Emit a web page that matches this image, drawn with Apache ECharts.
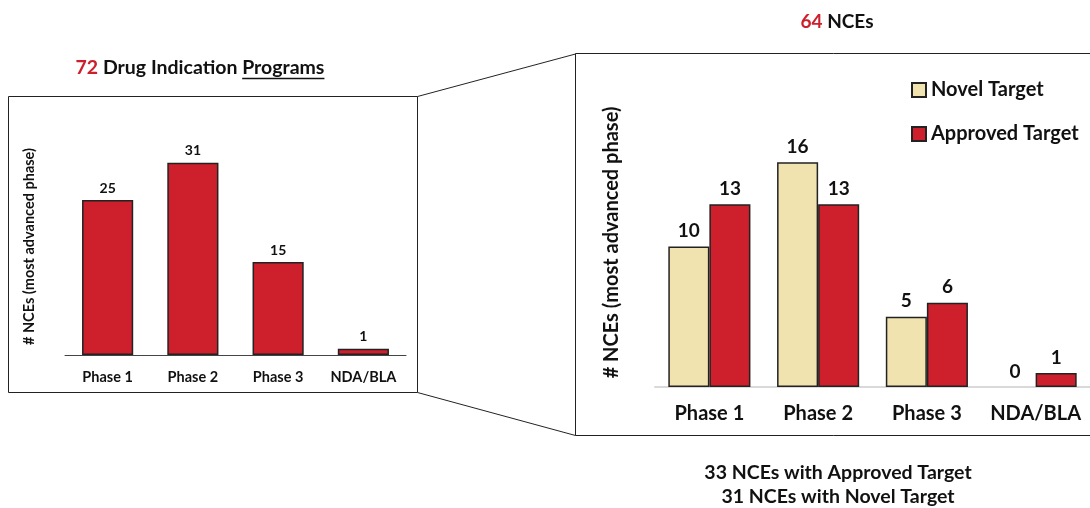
<!DOCTYPE html>
<html>
<head>
<meta charset="utf-8">
<script src="https://cdn.jsdelivr.net/npm/echarts@6/dist/echarts.min.js"></script>
<style>
  html, body { margin: 0; padding: 0; background: #fff; }
  #chart { width: 1090px; height: 508px; }
</style>
</head>
<body>
<div id="chart"></div>
<script>
// Phase categories shared by both panels
const categories = ['Phase 1', 'Phase 2', 'Phase 3', 'NDA/BLA'];
// Drug indication programs by most advanced phase
const programs = [25, 31, 15, 1];
// NCEs split by target type
const novelTarget = [10, 16, 5, 0];
const approvedTarget = [13, 13, 6, 1];
const seriesNames = ['Novel Target', 'Approved Target'];

const FONT = 'Lato, "Open Sans", sans-serif';
const RED = '#CD202C';
const CREAM = '#F1E3AF';
const INK = '#111';
const EDGE = '#222';

// zero-height bars get no outline so no stray stroke sits on the baseline
const barData = (vals) => vals.map(v => (v === 0 ? { value: v, itemStyle: { borderWidth: 0 } } : v));

// measure text to place the underline under "Programs"
function textWidth(str, size) {
  const ctx = document.createElement('canvas').getContext('2d');
  ctx.font = 'bold ' + size + 'px ' + FONT;
  return ctx.measureText(str).width;
}

const TITLE_SIZE = 19.5;
const titleX = 200;
const fullW = textWidth('72 Drug Indication Programs', TITLE_SIZE);
const progW = textWidth('Programs', TITLE_SIZE);
const ulRight = titleX + fullW / 2;
const ulLeft = ulRight - progW;

const chart = echarts.init(document.getElementById('chart'), null, { renderer: 'canvas' });

const yName = '# NCEs (most advanced phase)';

chart.setOption({
  animation: false,
  textStyle: { fontFamily: FONT },
  grid: [
    { left: 65, top: 138, width: 341, height: 217 },
    { left: 655, top: 106, width: 440, height: 281 }
  ],
  xAxis: [
    {
      gridIndex: 0, type: 'category', data: categories,
      axisLine: { lineStyle: { color: '#444', width: 1 } },
      axisTick: { show: false },
      axisLabel: { interval: 0, color: INK, fontWeight: 'bold', fontSize: 14.5, margin: 15, fontFamily: FONT }
    },
    {
      gridIndex: 1, type: 'category', data: categories,
      axisLine: { lineStyle: { color: '#d9d9d9', width: 2 } },
      axisTick: { show: false },
      axisLabel: { interval: 0, color: INK, fontWeight: 'bold', fontSize: 20, margin: 17, fontFamily: FONT }
    }
  ],
  yAxis: [
    {
      gridIndex: 0, type: 'value', min: 0, max: 35,
      axisLine: { show: false }, axisTick: { show: false },
      axisLabel: { show: false }, splitLine: { show: false },
      name: yName, nameLocation: 'middle', nameRotate: 90, nameGap: 28,
      nameTextStyle: { color: INK, fontWeight: 'bold', fontSize: 14.5, fontFamily: FONT }
    },
    {
      gridIndex: 1, type: 'value', min: 0, max: 20,
      axisLine: { show: false }, axisTick: { show: false },
      axisLabel: { show: false }, splitLine: { show: false },
      name: yName, nameLocation: 'middle', nameRotate: 90, nameGap: 33,
      nameTextStyle: { color: INK, fontWeight: 'bold', fontSize: 20, fontFamily: FONT, padding: [0, 0, 0, 8] }
    }
  ],
  legend: {
    data: seriesNames,
    orient: 'vertical',
    left: 906, top: 75,
    itemWidth: 14, itemHeight: 14, itemGap: 24,
    icon: 'rect',
    textStyle: { color: INK, fontWeight: 'bold', fontSize: 20, fontFamily: FONT }
  },
  series: [
    {
      name: 'Programs', type: 'bar', xAxisIndex: 0, yAxisIndex: 0,
      data: barData(programs), barCategoryGap: '40%',
      itemStyle: { color: RED, borderColor: EDGE, borderWidth: 1.5 },
      label: { show: true, position: 'top', distance: 5, color: INK, fontWeight: 'bold', fontSize: 14, fontFamily: FONT }
    },
    {
      name: seriesNames[0], type: 'bar', xAxisIndex: 1, yAxisIndex: 1,
      data: barData(novelTarget), barGap: '0%', barCategoryGap: '24.5%',
      itemStyle: { color: CREAM, borderColor: EDGE, borderWidth: 1.5 },
      label: { show: true, position: 'top', distance: 6, color: INK, fontWeight: 'bold', fontSize: 19, fontFamily: FONT }
    },
    {
      name: seriesNames[1], type: 'bar', xAxisIndex: 1, yAxisIndex: 1,
      data: barData(approvedTarget), barGap: '0%', barCategoryGap: '24.5%',
      itemStyle: { color: RED, borderColor: EDGE, borderWidth: 1.5 },
      label: { show: true, position: 'top', distance: 6, color: INK, fontWeight: 'bold', fontSize: 19, fontFamily: FONT }
    }
  ],
  graphic: [
    // panel frames
    { type: 'rect', shape: { x: 8.5, y: 96.5, width: 409, height: 296 },
      style: { fill: null, stroke: EDGE, lineWidth: 1 }, z: -1 },
    { type: 'rect', shape: { x: 575.5, y: 53.5, width: 530, height: 382 },
      style: { fill: null, stroke: EDGE, lineWidth: 1 }, z: -1 },
    // zoom connector lines
    { type: 'line', shape: { x1: 417.5, y1: 96.5, x2: 575.5, y2: 54 },
      style: { stroke: EDGE, lineWidth: 1 } },
    { type: 'line', shape: { x1: 417.5, y1: 392.5, x2: 575.5, y2: 435.5 },
      style: { stroke: EDGE, lineWidth: 1 } },
    // panel titles
    { type: 'text', x: titleX, y: 68,
      style: {
        text: '{r|72} {k|Drug Indication Programs}',
        align: 'center', verticalAlign: 'middle',
        rich: {
          r: { fill: RED, fontWeight: 'bold', fontSize: TITLE_SIZE, fontFamily: FONT },
          k: { fill: INK, fontWeight: 'bold', fontSize: TITLE_SIZE, fontFamily: FONT }
        },
        fontWeight: 'bold', fontSize: TITLE_SIZE, fontFamily: FONT
      }
    },
    { type: 'line', shape: { x1: ulLeft, y1: 78.5, x2: ulRight, y2: 78.5 },
      style: { stroke: INK, lineWidth: 1.3 } },
    { type: 'text', x: 837, y: 22,
      style: {
        text: '{r|64} {k|NCEs}',
        align: 'center', verticalAlign: 'middle',
        rich: {
          r: { fill: RED, fontWeight: 'bold', fontSize: 19, fontFamily: FONT },
          k: { fill: INK, fontWeight: 'bold', fontSize: 19, fontFamily: FONT }
        },
        fontWeight: 'bold', fontSize: 19, fontFamily: FONT
      }
    },
    // footnote totals
    { type: 'text', x: 838, y: 473,
      style: { text: '33 NCEs with Approved Target', align: 'center', verticalAlign: 'middle',
        fill: INK, fontWeight: 'bold', fontSize: 19.5, fontFamily: FONT } },
    { type: 'text', x: 838, y: 497,
      style: { text: '31 NCEs with Novel Target', align: 'center', verticalAlign: 'middle',
        fill: INK, fontWeight: 'bold', fontSize: 19.5, fontFamily: FONT } }
  ]
});
</script>
</body>
</html>
